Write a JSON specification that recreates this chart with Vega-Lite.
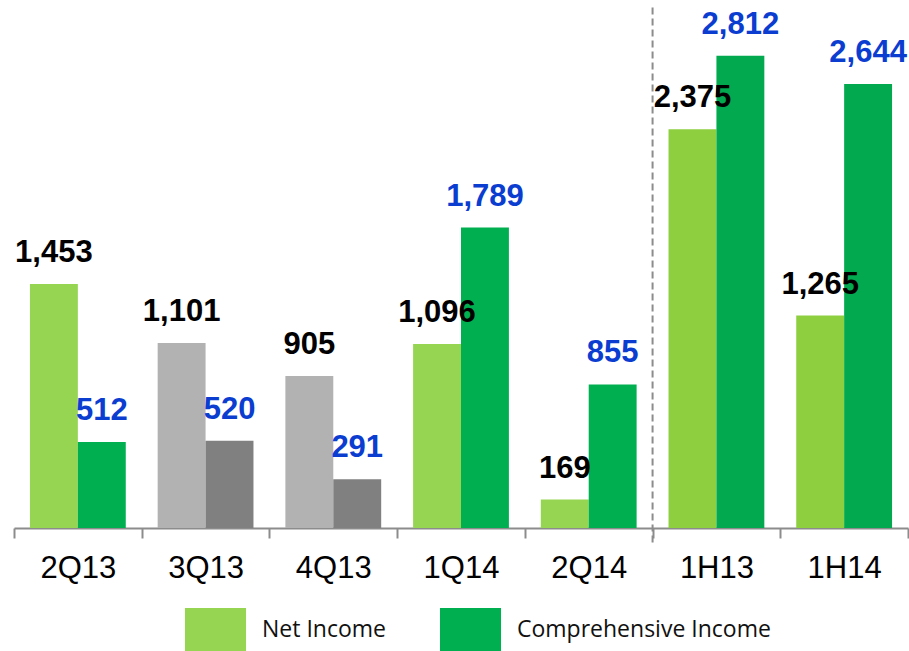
{
  "$schema": "https://vega.github.io/schema/vega-lite/v6.json",
  "width": 894,
  "height": 528,
  "autosize": {"type": "none"},
  "padding": {"left": 14, "top": 0, "right": 1, "bottom": 123},
  "background": "white",
  "config": {
    "view": {"stroke": null},
    "axis": {
      "title": null,
      "labelFont": "Liberation Sans",
      "labelFontSize": 31,
      "labelColor": "#000000",
      "labelAngle": 0,
      "tickBand": "extent",
      "tickSize": 10,
      "tickColor": "#8C8C8C",
      "tickWidth": 2,
      "domainColor": "#8C8C8C",
      "domainWidth": 2,
      "labelPadding": 15,
      "grid": false
    }
  },
  "data": {
    "values": [
      {"period": "2Q13", "series": "Net Income", "value": 1453},
      {"period": "2Q13", "series": "Comprehensive Income", "value": 512},
      {"period": "3Q13", "series": "Net Income", "value": 1101},
      {"period": "3Q13", "series": "Comprehensive Income", "value": 520},
      {"period": "4Q13", "series": "Net Income", "value": 905},
      {"period": "4Q13", "series": "Comprehensive Income", "value": 291},
      {"period": "1Q14", "series": "Net Income", "value": 1096},
      {"period": "1Q14", "series": "Comprehensive Income", "value": 1789},
      {"period": "2Q14", "series": "Net Income", "value": 169},
      {"period": "2Q14", "series": "Comprehensive Income", "value": 855},
      {"period": "1H13", "series": "Net Income", "value": 2375},
      {"period": "1H13", "series": "Comprehensive Income", "value": 2812},
      {"period": "1H14", "series": "Net Income", "value": 1265},
      {"period": "1H14", "series": "Comprehensive Income", "value": 2644}
    ]
  },
  "layer": [
    {
      "mark": {"type": "bar"},
      "encoding": {
        "x": {"field": "period", "type": "nominal", "scale": {"domain": ["2Q13", "3Q13", "4Q13", "1Q14", "2Q14", "1H13", "1H14"], "paddingInner": 0, "paddingOuter": 0}},
        "xOffset": {"field": "series", "type": "nominal", "scale": {"domain": ["Net Income", "Comprehensive Income"], "paddingOuter": 0.333, "paddingInner": 0}},
        "y": {"field": "value", "type": "quantitative", "scale": {"domain": [0, 3144], "nice": false}, "axis": null},
        "fill": {
          "field": "series",
          "type": "nominal",
          "scale": {"domain": ["Net Income", "Comprehensive Income"], "range": ["#96D552", "#00B050"]},
          "condition": [
            {"test": "(datum.period === '3Q13' || datum.period === '4Q13') && datum.series === 'Net Income'", "value": "#B2B2B2"},
            {"test": "datum.period === '3Q13' || datum.period === '4Q13'", "value": "#808080"},
            {"test": "(datum.period === '1H13' || datum.period === '1H14') && datum.series === 'Net Income'", "value": "#8ECF40"},
            {"test": "datum.period === '1H13' || datum.period === '1H14'", "value": "#02A94F"}
          ],
          "legend": {
            "orient": "none",
            "legendX": 180,
            "legendY": 608,
            "direction": "horizontal",
            "title": null,
            "symbolType": "M-1.42,-1H1.42V1H-1.42Z",
            "symbolSize": 1849,
            "symbolStrokeWidth": 0,
            "symbolOpacity": 1,
            "labelFont": "Open Sans",
            "labelFontSize": 23,
            "labelColor": "#111111",
            "labelLimit": 500,
            "labelOffset": 25,
            "columnPadding": 53,
            "padding": 0
          }
        }
      }
    },
    {
      "mark": {"type": "text", "dy": -31, "fontSize": 31, "fontWeight": "bold", "font": "Liberation Sans", "baseline": "middle"},
      "encoding": {
        "x": {"field": "period", "type": "nominal", "scale": {"domain": ["2Q13", "3Q13", "4Q13", "1Q14", "2Q14", "1H13", "1H14"]}},
        "xOffset": {"field": "series", "type": "nominal", "scale": {"domain": ["Net Income", "Comprehensive Income"]}},
        "y": {"field": "value", "type": "quantitative"},
        "text": {"field": "value", "type": "quantitative", "format": ","},
        "color": {
          "condition": {"test": "datum.series === 'Net Income'", "value": "#000000"},
          "value": "#0B3DD1"
        }
      }
    },
    {
      "data": {"values": [{"period": "1H13"}]},
      "mark": {"type": "rule", "strokeDash": [7, 4], "color": "#8C8C8C", "strokeWidth": 2},
      "encoding": {
        "x": {"field": "period", "type": "nominal", "bandPosition": 0, "scale": {"domain": ["2Q13", "3Q13", "4Q13", "1Q14", "2Q14", "1H13", "1H14"]}},
        "y": {"datum": 3100},
        "y2": {"datum": -100}
      }
    }
  ]
}
